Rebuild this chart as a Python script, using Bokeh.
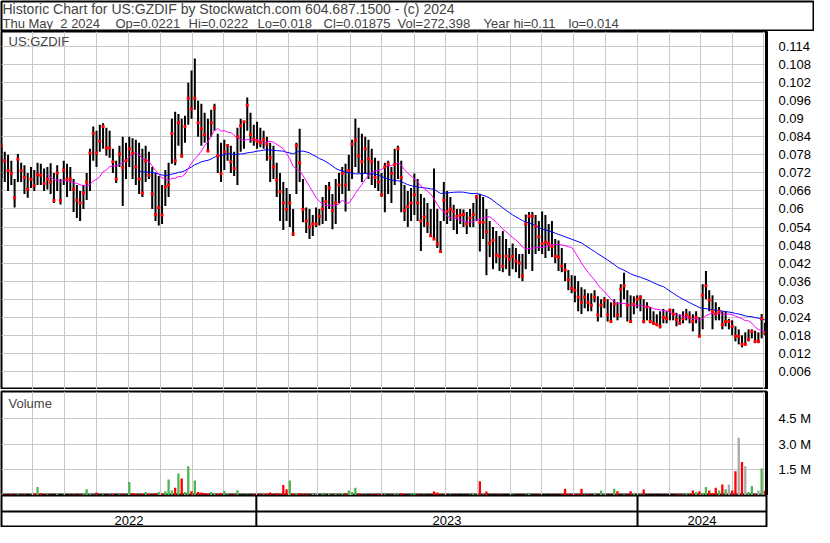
import pandas as pd
from bokeh.plotting import figure
from bokeh.models import (Range1d, LinearAxis, FixedTicker, Grid, MonthsTicker,
                          Label, Span, ColumnDataSource)
from bokeh.layouts import column
from bokeh.embed import file_html
from bokeh.resources import INLINE
from bokeh.core.properties import value

# ---------------- data ----------------
header_line1 = "Historic Chart for US:GZDIF by Stockwatch.com 604.687.1500 - (c) 2024"
header_fields = ["Thu May\u00a0\u00a02 2024", "Op=0.0221", "Hi=0.0222", "Lo=0.018",
                 "Cl=0.01875", "Vol=272,398", "Year hi=0.11", "lo=0.014"]
symbol = "US:GZDIF"
first_date = "2022-05-02"
last_date = "2024-05-02"

high = [
    .0812, .0790, .0780, .0760, .0700, .0783, .0754, .0745, .0720, .0740, .0730, .0754,
    .0750, .0735, .0740, .0752, .0720, .0745, .0700, .0760, .0750, .0740, .0700, .0680,
    .0660, .0680, .0720, .0800, .0874, .0860, .0880, .0885, .0870, .0860, .0800, .0760,
    .0810, .0840, .0820, .0840, .0835, .0830, .0820, .0800, .0810, .0790, .0740, .0720,
    .0710, .0680, .0730, .0754, .0900, .0923, .0916, .0900, .0910, .1020, .1060, .1100,
    .0960, .0950, .0920, .0900, .0930, .0950, .0850, .0820, .0830, .0816, .0810, .0790,
    .0870, .0900, .0890, .0971, .0920, .0880, .0890, .0870, .0860, .0840, .0820, .0810,
    .0754, .0720, .0690, .0670, .0650, .0600, .0820, .0867, .0700, .0605, .0600, .0580,
    .0605, .0600, .0640, .0680, .0690, .0650, .0700, .0720, .0740, .0750, .0780, .0830,
    .0900, .0870, .0850, .0840, .0830, .0800, .0770, .0760, .0720, .0754, .0760, .0740,
    .0800, .0810, .0760, .0680, .0660, .0670, .0718, .0700, .0650, .0637, .0620, .0600,
    .0735, .0600, .0560, .0690, .0660, .0640, .0614, .0600, .0600, .0598, .0590, .0600,
    .0620, .0647, .0650, .0640, .0600, .0560, .0540, .0527, .0510, .0527, .0500, .0470,
    .0485, .0470, .0450, .0450, .0582, .0590, .0590, .0580, .0560, .0592, .0580, .0550,
    .0560, .0500, .0495, .0470, .0420, .0397, .0380, .0378, .0360, .0340, .0333, .0320,
    .0320, .0330, .0310, .0300, .0307, .0300, .0290, .0300, .0290, .0350, .0388, .0330,
    .0313, .0310, .0313, .0313, .0300, .0290, .0274, .0260, .0250, .0260, .0268, .0260,
    .0268, .0268, .0255, .0250, .0260, .0268, .0260, .0250, .0260, .0240, .0350, .0394,
    .0330, .0313, .0290, .0274, .0260, .0260, .0235, .0230, .0210, .0200, .0180, .0190,
    .0200, .0200, .0195, .0190, .0251, .0222]
low = [
    .0702, .0690, .0660, .0680, .0605, .0690, .0690, .0650, .0637, .0670, .0660, .0680,
    .0680, .0660, .0665, .0650, .0620, .0660, .0615, .0680, .0640, .0660, .0590, .0570,
    .0560, .0600, .0630, .0660, .0760, .0740, .0790, .0800, .0777, .0770, .0720, .0686,
    .0740, .0610, .0700, .0740, .0700, .0680, .0650, .0640, .0690, .0700, .0600, .0560,
    .0545, .0550, .0610, .0640, .0750, .0745, .0810, .0770, .0820, .0880, .0900, .0930,
    .0840, .0810, .0820, .0793, .0840, .0860, .0720, .0690, .0730, .0760, .0720, .0710,
    .0680, .0790, .0800, .0860, .0820, .0810, .0800, .0805, .0800, .0760, .0690, .0700,
    .0640, .0560, .0530, .0560, .0540, .0510, .0650, .0690, .0556, .0520, .0500, .0510,
    .0540, .0545, .0550, .0560, .0600, .0533, .0550, .0620, .0650, .0592, .0660, .0700,
    .0740, .0720, .0690, .0720, .0700, .0680, .0670, .0660, .0640, .0589, .0650, .0620,
    .0680, .0700, .0589, .0560, .0540, .0560, .0580, .0560, .0460, .0540, .0520, .0508,
    .0500, .0470, .0459, .0560, .0550, .0560, .0530, .0517, .0550, .0540, .0517, .0540,
    .0540, .0560, .0459, .0500, .0380, .0440, .0400, .0420, .0394, .0390, .0400, .0378,
    .0400, .0390, .0370, .0360, .0400, .0450, .0394, .0450, .0460, .0450, .0437, .0460,
    .0440, .0420, .0394, .0390, .0360, .0330, .0320, .0290, .0260, .0251, .0270, .0260,
    .0260, .0290, .0226, .0240, .0270, .0226, .0226, .0240, .0230, .0240, .0300, .0226,
    .0226, .0250, .0270, .0260, .0220, .0230, .0220, .0215, .0210, .0203, .0220, .0220,
    .0230, .0230, .0210, .0216, .0220, .0230, .0220, .0193, .0220, .0177, .0200, .0300,
    .0260, .0200, .0230, .0230, .0200, .0210, .0200, .0180, .0160, .0150, .0140, .0150,
    .0160, .0170, .0154, .0154, .0170, .0180]
close = [
    .0809, .0760, .0728, .0718, .0637, .0765, .0728, .0705, .0666, .0699, .0677, .0715,
    .0712, .0685, .0700, .0690, .0628, .0720, .0628, .0730, .0700, .0700, .0666, .0630,
    .0620, .0653, .0690, .0786, .0851, .0786, .0825, .0874, .0803, .0803, .0757, .0700,
    .0783, .0738, .0760, .0800, .0785, .0740, .0700, .0653, .0760, .0712, .0650, .0582,
    .0605, .0580, .0673, .0680, .0851, .0760, .0887, .0777, .0874, .0968, .0932, .0968,
    .0887, .0867, .0848, .0793, .0887, .0936, .0777, .0718, .0790, .0810, .0757, .0735,
    .0840, .0877, .0890, .0945, .0848, .0832, .0825, .0819, .0830, .0816, .0770, .0740,
    .0696, .0657, .0620, .0598, .0620, .0517, .0810, .0754, .0598, .0560, .0540, .0550,
    .0550, .0576, .0600, .0624, .0670, .0595, .0620, .0680, .0718, .0680, .0728, .0816,
    .0829, .0777, .0757, .0800, .0767, .0757, .0705, .0690, .0647, .0740, .0750, .0718,
    .0748, .0800, .0705, .0595, .0608, .0620, .0647, .0620, .0560, .0573, .0550, .0511,
    .0500, .0485, .0459, .0630, .0592, .0600, .0592, .0576, .0580, .0582, .0550, .0570,
    .0582, .0640, .0556, .0556, .0524, .0485, .0495, .0446, .0443, .0410, .0443, .0433,
    .0443, .0427, .0420, .0378, .0550, .0576, .0576, .0543, .0508, .0485, .0490, .0485,
    .0475, .0443, .0440, .0410, .0397, .0365, .0336, .0330, .0307, .0290, .0307, .0290,
    .0280, .0307, .0248, .0280, .0297, .0248, .0226, .0284, .0248, .0333, .0345, .0280,
    .0226, .0284, .0300, .0307, .0226, .0274, .0226, .0220, .0216, .0210, .0240, .0235,
    .0264, .0251, .0232, .0220, .0235, .0248, .0240, .0226, .0240, .0177, .0313, .0345,
    .0297, .0260, .0251, .0260, .0216, .0226, .0226, .0210, .0177, .0177, .0150, .0150,
    .0167, .0193, .0160, .0160, .0235, .01875]
volume = [  # shares
    150e3, 60e3, 50e3, 100e3, 40e3, 80e3, 50e3, 70e3, 30e3, 60e3, 120e3, 500e3,
    150e3, 60e3, 80e3, 40e3, 50e3, 100e3, 30e3, 60e3, 50e3, 40e3, 80e3, 50e3,
    70e3, 120e3, 360e3, 100e3, 60e3, 170e3, 50e3, 80e3, 40e3, 60e3, 100e3, 50e3,
    70e3, 120e3, 60e3, 790e3, 150e3, 100e3, 80e3, 120e3, 200e3, 100e3, 80e3, 150e3,
    200e3, 120e3, 250e3, 940e3, 300e3, 460e3, 1290e3, 1000e3, 200e3, 1710e3, 250e3, 880e3,
    200e3, 180e3, 150e3, 120e3, 200e3, 100e3, 100e3, 150e3, 270e3, 80e3, 60e3, 100e3,
    310e3, 50e3, 40e3, 60e3, 40e3, 100e3, 50e3, 120e3, 80e3, 100e3, 180e3, 60e3,
    150e3, 100e3, 610e3, 360e3, 880e3, 120e3, 100e3, 150e3, 80e3, 120e3, 60e3, 100e3,
    80e3, 50e3, 120e3, 60e3, 150e3, 80e3, 100e3, 60e3, 120e3, 150e3, 300e3, 200e3,
    460e3, 120e3, 80e3, 60e3, 50e3, 80e3, 50e3, 100e3, 60e3, 80e3, 50e3, 60e3,
    100e3, 70e3, 150e3, 60e3, 50e3, 80e3, 150e3, 80e3, 50e3, 60e3, 40e3, 50e3,
    230e3, 170e3, 60e3, 50e3, 40e3, 60e3, 40e3, 50e3, 30e3, 50e3, 40e3, 60e3,
    130e3, 50e3, 830e3, 60e3, 230e3, 50e3, 40e3, 50e3, 60e3, 50e3, 30e3, 40e3,
    60e3, 50e3, 40e3, 50e3, 60e3, 100e3, 50e3, 40e3, 60e3, 50e3, 40e3, 30e3,
    60e3, 50e3, 40e3, 80e3, 400e3, 100e3, 60e3, 80e3, 100e3, 400e3, 60e3, 80e3,
    50e3, 100e3, 60e3, 300e3, 80e3, 50e3, 60e3, 400e3, 250e3, 50e3, 80e3, 60e3,
    250e3, 150e3, 50e3, 60e3, 350e3, 50e3, 40e3, 50e3, 30e3, 50e3, 40e3, 60e3,
    40e3, 50e3, 60e3, 100e3, 60e3, 120e3, 80e3, 300e3, 200e3, 250e3, 150e3, 500e3,
    300e3, 150e3, 460e3, 300e3, 650e3, 360e3, 650e3, 300e3, 1420e3, 3380e3, 1960e3, 1710e3,
    200e3, 550e3, 100e3, 300e3, 1580e3, 272e3]

price_ticks = [0.006, 0.012, 0.018, 0.024, 0.03, 0.036, 0.042, 0.048, 0.054, 0.06,
               0.066, 0.072, 0.078, 0.084, 0.09, 0.096, 0.102, 0.108, 0.114]
price_tick_labels = ["0.006", "0.012", "0.018", "0.024", "0.03", "0.036", "0.042",
                     "0.048", "0.054", "0.06", "0.066", "0.072", "0.078", "0.084",
                     "0.09", "0.096", "0.102", "0.108", "0.114"]
volume_ticks = [1.5e6, 3.0e6, 4.5e6]
volume_tick_labels = ["1.5 M", "3.0 M", "4.5 M"]
year_labels = ["2022", "2023", "2024"]
year_starts = ["2023-01-01", "2024-01-01"]
ma_short_window = 15
ma_long_window = 43

# ---------------- layout / style ----------------
W = 814
RIGHT = 40
FONT = "Liberation Sans"
GRID = "#c8c8c8"
header_field_x = [2, 115, 188, 257, 323, 397, 483, 568]

dates = pd.date_range(first_date, last_date, periods=len(close))
closes = pd.Series(close)
diff = closes.diff().fillna(0)
vcolor = ["#50b450" if d > 0 else ("#ff0000" if d < 0 else "#a8a8a8") for d in diff]
src = ColumnDataSource(dict(
    date=dates, high=high, low=low, close=close, volume=volume, vcolor=vcolor,
    ma_s=closes.rolling(ma_short_window).mean(),
    ma_l=closes.rolling(ma_long_window).mean(),
))
x_range = Range1d(start=pd.Timestamp("2022-05-02"), end=pd.Timestamp("2024-05-03 12:00"))
month_ticker = MonthsTicker(months=list(range(1, 13)))


def base(height, y_range, top=0):
    f = figure(width=W, height=height, x_range=x_range, y_range=y_range,
               x_axis_type=None, y_axis_type=None, toolbar_location=None,
               output_backend="svg", min_border=0)
    f.min_border_right = RIGHT
    f.min_border_left = 1
    f.min_border_top = top
    f.outline_line_color = "black"
    f.outline_line_width = 2
    f.background_fill_color = "white"
    f.border_fill_color = "white"
    return f


def right_axis(ticks, labels):
    a = LinearAxis(ticker=FixedTicker(ticks=ticks),
                   major_label_overrides=dict(zip(ticks, labels)))
    a.axis_line_width = 3
    a.major_tick_line_color = None
    a.minor_tick_line_color = None
    a.major_label_standoff = 6
    a.major_label_text_font = FONT
    a.major_label_text_font_size = "13px"
    a.major_label_text_color = "black"
    return a


# header
hdr = figure(width=W, height=31, x_range=(0, 1), y_range=(0, 1), x_axis_type=None,
             y_axis_type=None, toolbar_location=None, output_backend="svg", min_border=1)
hdr.frame_align = False
hdr.outline_line_color = "black"
hdr.outline_line_width = 2
hdr.add_layout(Label(x=1, y=30, x_units="screen", y_units="screen", text=header_line1,
                     text_font=FONT, text_font_size="14px", text_baseline="top"))
for fx, txt in zip(header_field_x, header_fields):
    hdr.add_layout(Label(x=fx - 1, y=15, x_units="screen", y_units="screen", text=txt,
                         text_font=FONT, text_font_size="13px", text_baseline="top"))

# price panel
p = base(358, Range1d(0, 0.119))
p.add_layout(Grid(dimension=0, ticker=month_ticker, grid_line_color=GRID))
p.add_layout(Grid(dimension=1, ticker=FixedTicker(ticks=price_ticks), grid_line_color=GRID))
p.segment(x0="date", y0="low", x1="date", y1="high", line_color="black", line_width=2, source=src)
p.line(x="date", y="ma_l", line_color="#0000ff", line_width=1, source=src)
p.line(x="date", y="ma_s", line_color="#ff00ff", line_width=1, source=src)
p.scatter(x="date", y="close", marker="square", size=3, color="#ff0000", line_width=0, source=src)
p.add_layout(right_axis(price_ticks, price_tick_labels), "right")
p.add_layout(Label(x=7, y=356, x_units="screen", y_units="screen", text=symbol,
                   text_font=FONT, text_font_size="13px", text_baseline="top"))

# volume panel
v = base(106, Range1d(0, 6.1e6), top=2)
v.add_layout(Grid(dimension=0, ticker=month_ticker, grid_line_color=GRID))
v.add_layout(Grid(dimension=1, ticker=FixedTicker(ticks=volume_ticks), grid_line_color=GRID))
bar_w = (dates[1] - dates[0]).total_seconds() * 1000 * 0.7
v.vbar(x="date", top="volume", bottom=0, width=bar_w, fill_color="vcolor",
       line_color=None, source=src)
v.add_layout(right_axis(volume_ticks, volume_tick_labels), "right")
v.add_layout(Label(x=7, y=100, x_units="screen", y_units="screen", text="Volume",
                   text_font=FONT, text_font_size="13px", text_baseline="top"))

# date axis panel
d = base(32, Range1d(0, 2))
bounds = [x_range.start] + [pd.Timestamp(s) for s in year_starts] + [x_range.end]
mids = [bounds[i] + (bounds[i + 1] - bounds[i]) / 2 for i in range(len(year_labels))]
for s in year_starts:
    d.add_layout(Span(location=pd.Timestamp(s).value / 1e6, dimension="height",
                      line_color="black", line_width=2))
d.add_layout(Span(location=1.0, dimension="width", line_color="black", line_width=2))
d.text(x=mids, y=[0.45] * len(mids), text=year_labels, text_font=value(FONT),
       text_font_size="13px", text_align="center", text_baseline="middle", text_color="black")

layout = column(hdr, p, v, d, spacing=0)
open("out.html", "w").write(file_html(layout, INLINE))
